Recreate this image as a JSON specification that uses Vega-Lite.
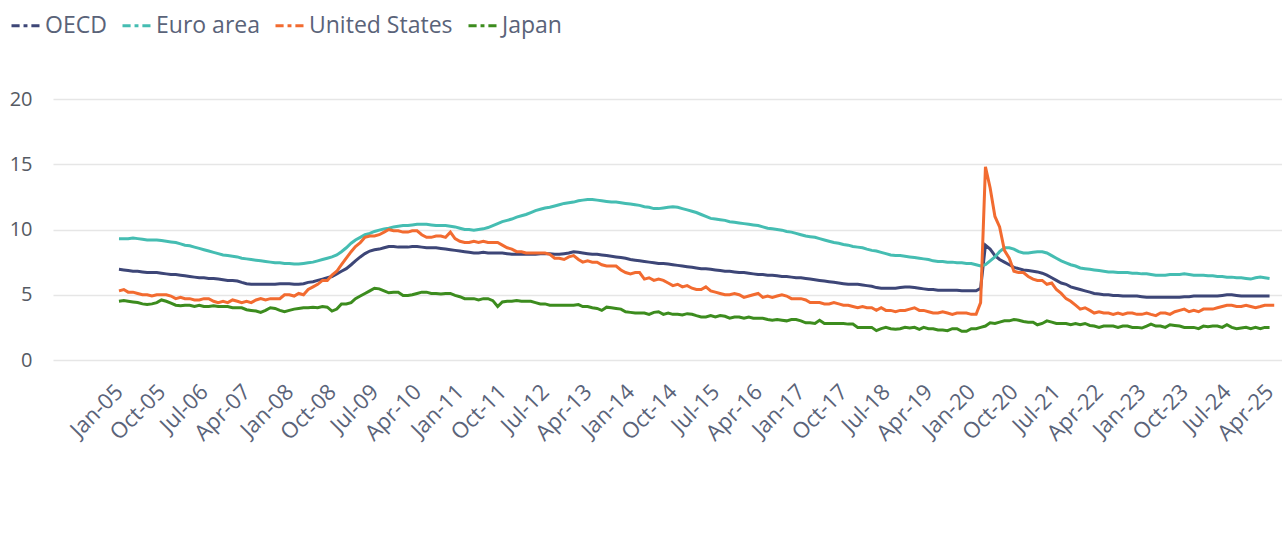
{
"$schema":"https://vega.github.io/schema/vega-lite/v6.json",
"width":1229,"height":261,
"autosize":{"type":"none"},
"padding":{"left":53,"top":99,"right":0,"bottom":180},
"background":"white",
"config":{"view":{"stroke":null},"font":"Open Sans"},
"data":{"values":[
{"d":"2005-01","OECD":6.95,"Euro area":9.3,"United States":5.3,"Japan":4.5},
{"d":"2005-02","OECD":6.9,"Euro area":9.3,"United States":5.4,"Japan":4.55},
{"d":"2005-03","OECD":6.85,"Euro area":9.3,"United States":5.2,"Japan":4.5},
{"d":"2005-04","OECD":6.8,"Euro area":9.35,"United States":5.2,"Japan":4.45},
{"d":"2005-05","OECD":6.8,"Euro area":9.3,"United States":5.1,"Japan":4.4},
{"d":"2005-06","OECD":6.75,"Euro area":9.25,"United States":5.0,"Japan":4.3},
{"d":"2005-07","OECD":6.7,"Euro area":9.2,"United States":5.0,"Japan":4.25},
{"d":"2005-08","OECD":6.7,"Euro area":9.2,"United States":4.9,"Japan":4.3},
{"d":"2005-09","OECD":6.7,"Euro area":9.2,"United States":5.0,"Japan":4.4},
{"d":"2005-10","OECD":6.65,"Euro area":9.15,"United States":5.0,"Japan":4.6},
{"d":"2005-11","OECD":6.6,"Euro area":9.1,"United States":5.0,"Japan":4.5},
{"d":"2005-12","OECD":6.55,"Euro area":9.05,"United States":4.9,"Japan":4.35},
{"d":"2006-01","OECD":6.55,"Euro area":9.0,"United States":4.7,"Japan":4.2},
{"d":"2006-02","OECD":6.5,"Euro area":8.9,"United States":4.8,"Japan":4.15},
{"d":"2006-03","OECD":6.45,"Euro area":8.8,"United States":4.7,"Japan":4.2},
{"d":"2006-04","OECD":6.4,"Euro area":8.75,"United States":4.7,"Japan":4.2},
{"d":"2006-05","OECD":6.35,"Euro area":8.65,"United States":4.6,"Japan":4.1},
{"d":"2006-06","OECD":6.3,"Euro area":8.55,"United States":4.6,"Japan":4.2},
{"d":"2006-07","OECD":6.3,"Euro area":8.45,"United States":4.7,"Japan":4.1},
{"d":"2006-08","OECD":6.25,"Euro area":8.35,"United States":4.7,"Japan":4.1},
{"d":"2006-09","OECD":6.25,"Euro area":8.25,"United States":4.5,"Japan":4.15},
{"d":"2006-10","OECD":6.2,"Euro area":8.15,"United States":4.4,"Japan":4.1},
{"d":"2006-11","OECD":6.15,"Euro area":8.05,"United States":4.5,"Japan":4.1},
{"d":"2006-12","OECD":6.1,"Euro area":8.0,"United States":4.4,"Japan":4.1},
{"d":"2007-01","OECD":6.1,"Euro area":7.95,"United States":4.6,"Japan":4.0},
{"d":"2007-02","OECD":6.05,"Euro area":7.9,"United States":4.5,"Japan":4.0},
{"d":"2007-03","OECD":5.95,"Euro area":7.8,"United States":4.4,"Japan":4.0},
{"d":"2007-04","OECD":5.85,"Euro area":7.75,"United States":4.5,"Japan":3.85},
{"d":"2007-05","OECD":5.8,"Euro area":7.7,"United States":4.4,"Japan":3.8},
{"d":"2007-06","OECD":5.8,"Euro area":7.65,"United States":4.6,"Japan":3.75},
{"d":"2007-07","OECD":5.8,"Euro area":7.6,"United States":4.7,"Japan":3.65},
{"d":"2007-08","OECD":5.8,"Euro area":7.55,"United States":4.6,"Japan":3.8},
{"d":"2007-09","OECD":5.8,"Euro area":7.5,"United States":4.7,"Japan":4.0},
{"d":"2007-10","OECD":5.8,"Euro area":7.45,"United States":4.7,"Japan":3.95},
{"d":"2007-11","OECD":5.85,"Euro area":7.45,"United States":4.7,"Japan":3.8},
{"d":"2007-12","OECD":5.85,"Euro area":7.4,"United States":5.0,"Japan":3.7},
{"d":"2008-01","OECD":5.85,"Euro area":7.4,"United States":5.0,"Japan":3.8},
{"d":"2008-02","OECD":5.8,"Euro area":7.35,"United States":4.9,"Japan":3.9},
{"d":"2008-03","OECD":5.8,"Euro area":7.35,"United States":5.1,"Japan":3.95},
{"d":"2008-04","OECD":5.85,"Euro area":7.4,"United States":5.0,"Japan":4.0},
{"d":"2008-05","OECD":5.95,"Euro area":7.45,"United States":5.4,"Japan":4.0},
{"d":"2008-06","OECD":6.0,"Euro area":7.5,"United States":5.6,"Japan":4.05},
{"d":"2008-07","OECD":6.1,"Euro area":7.6,"United States":5.8,"Japan":4.0},
{"d":"2008-08","OECD":6.2,"Euro area":7.7,"United States":6.1,"Japan":4.1},
{"d":"2008-09","OECD":6.3,"Euro area":7.8,"United States":6.1,"Japan":4.05},
{"d":"2008-10","OECD":6.4,"Euro area":7.9,"United States":6.5,"Japan":3.75},
{"d":"2008-11","OECD":6.6,"Euro area":8.05,"United States":6.8,"Japan":3.9},
{"d":"2008-12","OECD":6.8,"Euro area":8.3,"United States":7.3,"Japan":4.3},
{"d":"2009-01","OECD":7.0,"Euro area":8.6,"United States":7.8,"Japan":4.3},
{"d":"2009-02","OECD":7.3,"Euro area":8.95,"United States":8.3,"Japan":4.4},
{"d":"2009-03","OECD":7.6,"Euro area":9.2,"United States":8.7,"Japan":4.7},
{"d":"2009-04","OECD":7.9,"Euro area":9.4,"United States":9.0,"Japan":4.9},
{"d":"2009-05","OECD":8.15,"Euro area":9.6,"United States":9.4,"Japan":5.1},
{"d":"2009-06","OECD":8.35,"Euro area":9.7,"United States":9.5,"Japan":5.3},
{"d":"2009-07","OECD":8.45,"Euro area":9.85,"United States":9.5,"Japan":5.5},
{"d":"2009-08","OECD":8.5,"Euro area":9.95,"United States":9.6,"Japan":5.45},
{"d":"2009-09","OECD":8.6,"Euro area":10.05,"United States":9.8,"Japan":5.3},
{"d":"2009-10","OECD":8.7,"Euro area":10.1,"United States":10.0,"Japan":5.15},
{"d":"2009-11","OECD":8.7,"Euro area":10.2,"United States":9.9,"Japan":5.2},
{"d":"2009-12","OECD":8.65,"Euro area":10.25,"United States":9.9,"Japan":5.2},
{"d":"2010-01","OECD":8.65,"Euro area":10.3,"United States":9.8,"Japan":4.95},
{"d":"2010-02","OECD":8.65,"Euro area":10.3,"United States":9.8,"Japan":4.95},
{"d":"2010-03","OECD":8.7,"Euro area":10.35,"United States":9.9,"Japan":5.0},
{"d":"2010-04","OECD":8.7,"Euro area":10.4,"United States":9.9,"Japan":5.1},
{"d":"2010-05","OECD":8.65,"Euro area":10.4,"United States":9.6,"Japan":5.2},
{"d":"2010-06","OECD":8.6,"Euro area":10.4,"United States":9.4,"Japan":5.2},
{"d":"2010-07","OECD":8.6,"Euro area":10.35,"United States":9.4,"Japan":5.1},
{"d":"2010-08","OECD":8.6,"Euro area":10.3,"United States":9.5,"Japan":5.1},
{"d":"2010-09","OECD":8.55,"Euro area":10.3,"United States":9.5,"Japan":5.05},
{"d":"2010-10","OECD":8.5,"Euro area":10.3,"United States":9.4,"Japan":5.1},
{"d":"2010-11","OECD":8.45,"Euro area":10.25,"United States":9.8,"Japan":5.1},
{"d":"2010-12","OECD":8.4,"Euro area":10.2,"United States":9.3,"Japan":4.95},
{"d":"2011-01","OECD":8.35,"Euro area":10.1,"United States":9.1,"Japan":4.85},
{"d":"2011-02","OECD":8.3,"Euro area":10.0,"United States":9.0,"Japan":4.7},
{"d":"2011-03","OECD":8.25,"Euro area":10.0,"United States":9.0,"Japan":4.7},
{"d":"2011-04","OECD":8.2,"Euro area":9.95,"United States":9.1,"Japan":4.7},
{"d":"2011-05","OECD":8.2,"Euro area":10.0,"United States":9.0,"Japan":4.6},
{"d":"2011-06","OECD":8.25,"Euro area":10.05,"United States":9.1,"Japan":4.7},
{"d":"2011-07","OECD":8.2,"Euro area":10.15,"United States":9.0,"Japan":4.7},
{"d":"2011-08","OECD":8.2,"Euro area":10.3,"United States":9.0,"Japan":4.55},
{"d":"2011-09","OECD":8.2,"Euro area":10.45,"United States":9.0,"Japan":4.1},
{"d":"2011-10","OECD":8.2,"Euro area":10.6,"United States":8.8,"Japan":4.45},
{"d":"2011-11","OECD":8.15,"Euro area":10.7,"United States":8.6,"Japan":4.5},
{"d":"2011-12","OECD":8.1,"Euro area":10.8,"United States":8.5,"Japan":4.5},
{"d":"2012-01","OECD":8.1,"Euro area":10.95,"United States":8.3,"Japan":4.55},
{"d":"2012-02","OECD":8.1,"Euro area":11.05,"United States":8.3,"Japan":4.5},
{"d":"2012-03","OECD":8.1,"Euro area":11.15,"United States":8.2,"Japan":4.5},
{"d":"2012-04","OECD":8.1,"Euro area":11.3,"United States":8.2,"Japan":4.5},
{"d":"2012-05","OECD":8.1,"Euro area":11.45,"United States":8.2,"Japan":4.4},
{"d":"2012-06","OECD":8.15,"Euro area":11.55,"United States":8.2,"Japan":4.3},
{"d":"2012-07","OECD":8.15,"Euro area":11.65,"United States":8.2,"Japan":4.3},
{"d":"2012-08","OECD":8.15,"Euro area":11.7,"United States":8.1,"Japan":4.2},
{"d":"2012-09","OECD":8.1,"Euro area":11.8,"United States":7.8,"Japan":4.2},
{"d":"2012-10","OECD":8.1,"Euro area":11.9,"United States":7.8,"Japan":4.2},
{"d":"2012-11","OECD":8.15,"Euro area":12.0,"United States":7.7,"Japan":4.2},
{"d":"2012-12","OECD":8.2,"Euro area":12.05,"United States":7.9,"Japan":4.2},
{"d":"2013-01","OECD":8.3,"Euro area":12.1,"United States":8.0,"Japan":4.2},
{"d":"2013-02","OECD":8.25,"Euro area":12.2,"United States":7.7,"Japan":4.25},
{"d":"2013-03","OECD":8.2,"Euro area":12.25,"United States":7.5,"Japan":4.1},
{"d":"2013-04","OECD":8.15,"Euro area":12.3,"United States":7.6,"Japan":4.1},
{"d":"2013-05","OECD":8.1,"Euro area":12.3,"United States":7.5,"Japan":4.0},
{"d":"2013-06","OECD":8.1,"Euro area":12.25,"United States":7.5,"Japan":3.95},
{"d":"2013-07","OECD":8.05,"Euro area":12.2,"United States":7.3,"Japan":3.8},
{"d":"2013-08","OECD":8.0,"Euro area":12.15,"United States":7.2,"Japan":4.05},
{"d":"2013-09","OECD":7.95,"Euro area":12.1,"United States":7.2,"Japan":4.0},
{"d":"2013-10","OECD":7.9,"Euro area":12.1,"United States":7.2,"Japan":3.95},
{"d":"2013-11","OECD":7.85,"Euro area":12.05,"United States":6.9,"Japan":3.9},
{"d":"2013-12","OECD":7.8,"Euro area":12.0,"United States":6.7,"Japan":3.7},
{"d":"2014-01","OECD":7.7,"Euro area":11.95,"United States":6.6,"Japan":3.65},
{"d":"2014-02","OECD":7.65,"Euro area":11.9,"United States":6.7,"Japan":3.6},
{"d":"2014-03","OECD":7.6,"Euro area":11.85,"United States":6.7,"Japan":3.6},
{"d":"2014-04","OECD":7.55,"Euro area":11.75,"United States":6.2,"Japan":3.6},
{"d":"2014-05","OECD":7.5,"Euro area":11.7,"United States":6.3,"Japan":3.5},
{"d":"2014-06","OECD":7.45,"Euro area":11.6,"United States":6.1,"Japan":3.65},
{"d":"2014-07","OECD":7.4,"Euro area":11.6,"United States":6.2,"Japan":3.7},
{"d":"2014-08","OECD":7.4,"Euro area":11.65,"United States":6.1,"Japan":3.5},
{"d":"2014-09","OECD":7.35,"Euro area":11.7,"United States":5.9,"Japan":3.6},
{"d":"2014-10","OECD":7.3,"Euro area":11.75,"United States":5.7,"Japan":3.5},
{"d":"2014-11","OECD":7.25,"Euro area":11.7,"United States":5.8,"Japan":3.5},
{"d":"2014-12","OECD":7.2,"Euro area":11.6,"United States":5.6,"Japan":3.45},
{"d":"2015-01","OECD":7.15,"Euro area":11.5,"United States":5.7,"Japan":3.55},
{"d":"2015-02","OECD":7.1,"Euro area":11.4,"United States":5.5,"Japan":3.5},
{"d":"2015-03","OECD":7.05,"Euro area":11.3,"United States":5.4,"Japan":3.4},
{"d":"2015-04","OECD":7.0,"Euro area":11.15,"United States":5.4,"Japan":3.3},
{"d":"2015-05","OECD":7.0,"Euro area":11.0,"United States":5.6,"Japan":3.3},
{"d":"2015-06","OECD":6.95,"Euro area":10.85,"United States":5.3,"Japan":3.4},
{"d":"2015-07","OECD":6.9,"Euro area":10.8,"United States":5.2,"Japan":3.3},
{"d":"2015-08","OECD":6.85,"Euro area":10.75,"United States":5.1,"Japan":3.4},
{"d":"2015-09","OECD":6.8,"Euro area":10.7,"United States":5.0,"Japan":3.35},
{"d":"2015-10","OECD":6.8,"Euro area":10.6,"United States":5.0,"Japan":3.2},
{"d":"2015-11","OECD":6.75,"Euro area":10.55,"United States":5.1,"Japan":3.3},
{"d":"2015-12","OECD":6.7,"Euro area":10.5,"United States":5.0,"Japan":3.3},
{"d":"2016-01","OECD":6.7,"Euro area":10.45,"United States":4.8,"Japan":3.2},
{"d":"2016-02","OECD":6.65,"Euro area":10.4,"United States":4.9,"Japan":3.3},
{"d":"2016-03","OECD":6.6,"Euro area":10.35,"United States":5.0,"Japan":3.2},
{"d":"2016-04","OECD":6.55,"Euro area":10.3,"United States":5.1,"Japan":3.2},
{"d":"2016-05","OECD":6.55,"Euro area":10.2,"United States":4.8,"Japan":3.2},
{"d":"2016-06","OECD":6.5,"Euro area":10.1,"United States":4.9,"Japan":3.1},
{"d":"2016-07","OECD":6.5,"Euro area":10.05,"United States":4.8,"Japan":3.05},
{"d":"2016-08","OECD":6.45,"Euro area":10.0,"United States":4.9,"Japan":3.1},
{"d":"2016-09","OECD":6.4,"Euro area":9.95,"United States":5.0,"Japan":3.05},
{"d":"2016-10","OECD":6.4,"Euro area":9.85,"United States":4.9,"Japan":3.0},
{"d":"2016-11","OECD":6.35,"Euro area":9.8,"United States":4.7,"Japan":3.1},
{"d":"2016-12","OECD":6.3,"Euro area":9.7,"United States":4.7,"Japan":3.1},
{"d":"2017-01","OECD":6.3,"Euro area":9.6,"United States":4.7,"Japan":3.0},
{"d":"2017-02","OECD":6.25,"Euro area":9.5,"United States":4.6,"Japan":2.85},
{"d":"2017-03","OECD":6.2,"Euro area":9.45,"United States":4.4,"Japan":2.85},
{"d":"2017-04","OECD":6.15,"Euro area":9.4,"United States":4.4,"Japan":2.8},
{"d":"2017-05","OECD":6.1,"Euro area":9.3,"United States":4.4,"Japan":3.05},
{"d":"2017-06","OECD":6.05,"Euro area":9.2,"United States":4.3,"Japan":2.8},
{"d":"2017-07","OECD":6.0,"Euro area":9.1,"United States":4.3,"Japan":2.8},
{"d":"2017-08","OECD":5.95,"Euro area":9.0,"United States":4.4,"Japan":2.8},
{"d":"2017-09","OECD":5.9,"Euro area":8.95,"United States":4.3,"Japan":2.8},
{"d":"2017-10","OECD":5.85,"Euro area":8.85,"United States":4.2,"Japan":2.8},
{"d":"2017-11","OECD":5.8,"Euro area":8.8,"United States":4.2,"Japan":2.75},
{"d":"2017-12","OECD":5.8,"Euro area":8.7,"United States":4.1,"Japan":2.75},
{"d":"2018-01","OECD":5.8,"Euro area":8.65,"United States":4.0,"Japan":2.5},
{"d":"2018-02","OECD":5.75,"Euro area":8.6,"United States":4.1,"Japan":2.5},
{"d":"2018-03","OECD":5.7,"Euro area":8.5,"United States":4.0,"Japan":2.5},
{"d":"2018-04","OECD":5.65,"Euro area":8.4,"United States":4.0,"Japan":2.5},
{"d":"2018-05","OECD":5.55,"Euro area":8.35,"United States":3.8,"Japan":2.25},
{"d":"2018-06","OECD":5.5,"Euro area":8.25,"United States":4.0,"Japan":2.4},
{"d":"2018-07","OECD":5.5,"Euro area":8.15,"United States":3.8,"Japan":2.5},
{"d":"2018-08","OECD":5.5,"Euro area":8.05,"United States":3.8,"Japan":2.4},
{"d":"2018-09","OECD":5.5,"Euro area":8.0,"United States":3.7,"Japan":2.35},
{"d":"2018-10","OECD":5.55,"Euro area":8.0,"United States":3.8,"Japan":2.4},
{"d":"2018-11","OECD":5.6,"Euro area":7.95,"United States":3.8,"Japan":2.5},
{"d":"2018-12","OECD":5.6,"Euro area":7.9,"United States":3.9,"Japan":2.45},
{"d":"2019-01","OECD":5.55,"Euro area":7.85,"United States":4.0,"Japan":2.5},
{"d":"2019-02","OECD":5.5,"Euro area":7.8,"United States":3.8,"Japan":2.35},
{"d":"2019-03","OECD":5.45,"Euro area":7.75,"United States":3.8,"Japan":2.5},
{"d":"2019-04","OECD":5.4,"Euro area":7.7,"United States":3.7,"Japan":2.4},
{"d":"2019-05","OECD":5.4,"Euro area":7.6,"United States":3.6,"Japan":2.4},
{"d":"2019-06","OECD":5.35,"Euro area":7.55,"United States":3.6,"Japan":2.3},
{"d":"2019-07","OECD":5.35,"Euro area":7.55,"United States":3.7,"Japan":2.3},
{"d":"2019-08","OECD":5.35,"Euro area":7.5,"United States":3.6,"Japan":2.25},
{"d":"2019-09","OECD":5.35,"Euro area":7.5,"United States":3.5,"Japan":2.4},
{"d":"2019-10","OECD":5.35,"Euro area":7.45,"United States":3.6,"Japan":2.4},
{"d":"2019-11","OECD":5.3,"Euro area":7.45,"United States":3.6,"Japan":2.2},
{"d":"2019-12","OECD":5.3,"Euro area":7.4,"United States":3.6,"Japan":2.2},
{"d":"2020-01","OECD":5.3,"Euro area":7.4,"United States":3.5,"Japan":2.4},
{"d":"2020-02","OECD":5.3,"Euro area":7.3,"United States":3.5,"Japan":2.4},
{"d":"2020-03","OECD":5.5,"Euro area":7.2,"United States":4.4,"Japan":2.5},
{"d":"2020-04","OECD":8.8,"Euro area":7.3,"United States":14.8,"Japan":2.6},
{"d":"2020-05","OECD":8.5,"Euro area":7.6,"United States":13.2,"Japan":2.85},
{"d":"2020-06","OECD":8.0,"Euro area":7.9,"United States":11.0,"Japan":2.8},
{"d":"2020-07","OECD":7.7,"Euro area":8.3,"United States":10.2,"Japan":2.9},
{"d":"2020-08","OECD":7.5,"Euro area":8.6,"United States":8.4,"Japan":3.0},
{"d":"2020-09","OECD":7.3,"Euro area":8.6,"United States":7.8,"Japan":3.0},
{"d":"2020-10","OECD":7.1,"Euro area":8.5,"United States":6.8,"Japan":3.1},
{"d":"2020-11","OECD":7.0,"Euro area":8.3,"United States":6.7,"Japan":3.05},
{"d":"2020-12","OECD":6.9,"Euro area":8.2,"United States":6.7,"Japan":2.95},
{"d":"2021-01","OECD":6.85,"Euro area":8.2,"United States":6.4,"Japan":2.9},
{"d":"2021-02","OECD":6.8,"Euro area":8.25,"United States":6.2,"Japan":2.9},
{"d":"2021-03","OECD":6.75,"Euro area":8.3,"United States":6.1,"Japan":2.7},
{"d":"2021-04","OECD":6.65,"Euro area":8.3,"United States":6.1,"Japan":2.8},
{"d":"2021-05","OECD":6.5,"Euro area":8.2,"United States":5.8,"Japan":3.0},
{"d":"2021-06","OECD":6.3,"Euro area":8.0,"United States":5.9,"Japan":2.9},
{"d":"2021-07","OECD":6.1,"Euro area":7.8,"United States":5.4,"Japan":2.8},
{"d":"2021-08","OECD":5.9,"Euro area":7.6,"United States":5.1,"Japan":2.8},
{"d":"2021-09","OECD":5.8,"Euro area":7.45,"United States":4.7,"Japan":2.8},
{"d":"2021-10","OECD":5.6,"Euro area":7.3,"United States":4.5,"Japan":2.7},
{"d":"2021-11","OECD":5.5,"Euro area":7.2,"United States":4.2,"Japan":2.8},
{"d":"2021-12","OECD":5.4,"Euro area":7.05,"United States":3.9,"Japan":2.7},
{"d":"2022-01","OECD":5.3,"Euro area":7.0,"United States":4.0,"Japan":2.8},
{"d":"2022-02","OECD":5.2,"Euro area":6.95,"United States":3.8,"Japan":2.65},
{"d":"2022-03","OECD":5.1,"Euro area":6.9,"United States":3.6,"Japan":2.6},
{"d":"2022-04","OECD":5.05,"Euro area":6.85,"United States":3.7,"Japan":2.5},
{"d":"2022-05","OECD":5.0,"Euro area":6.8,"United States":3.6,"Japan":2.6},
{"d":"2022-06","OECD":5.0,"Euro area":6.75,"United States":3.6,"Japan":2.6},
{"d":"2022-07","OECD":4.95,"Euro area":6.75,"United States":3.5,"Japan":2.6},
{"d":"2022-08","OECD":4.95,"Euro area":6.7,"United States":3.6,"Japan":2.5},
{"d":"2022-09","OECD":4.9,"Euro area":6.7,"United States":3.5,"Japan":2.6},
{"d":"2022-10","OECD":4.9,"Euro area":6.7,"United States":3.6,"Japan":2.6},
{"d":"2022-11","OECD":4.9,"Euro area":6.65,"United States":3.6,"Japan":2.5},
{"d":"2022-12","OECD":4.9,"Euro area":6.65,"United States":3.5,"Japan":2.5},
{"d":"2023-01","OECD":4.85,"Euro area":6.6,"United States":3.5,"Japan":2.45},
{"d":"2023-02","OECD":4.8,"Euro area":6.6,"United States":3.6,"Japan":2.6},
{"d":"2023-03","OECD":4.8,"Euro area":6.55,"United States":3.5,"Japan":2.75},
{"d":"2023-04","OECD":4.8,"Euro area":6.5,"United States":3.4,"Japan":2.6},
{"d":"2023-05","OECD":4.8,"Euro area":6.5,"United States":3.6,"Japan":2.6},
{"d":"2023-06","OECD":4.8,"Euro area":6.5,"United States":3.6,"Japan":2.5},
{"d":"2023-07","OECD":4.8,"Euro area":6.55,"United States":3.5,"Japan":2.7},
{"d":"2023-08","OECD":4.8,"Euro area":6.55,"United States":3.7,"Japan":2.65},
{"d":"2023-09","OECD":4.8,"Euro area":6.55,"United States":3.8,"Japan":2.6},
{"d":"2023-10","OECD":4.85,"Euro area":6.6,"United States":3.9,"Japan":2.5},
{"d":"2023-11","OECD":4.85,"Euro area":6.55,"United States":3.7,"Japan":2.5},
{"d":"2023-12","OECD":4.9,"Euro area":6.5,"United States":3.8,"Japan":2.5},
{"d":"2024-01","OECD":4.9,"Euro area":6.5,"United States":3.7,"Japan":2.4},
{"d":"2024-02","OECD":4.9,"Euro area":6.5,"United States":3.9,"Japan":2.6},
{"d":"2024-03","OECD":4.9,"Euro area":6.45,"United States":3.9,"Japan":2.55},
{"d":"2024-04","OECD":4.9,"Euro area":6.45,"United States":3.9,"Japan":2.6},
{"d":"2024-05","OECD":4.9,"Euro area":6.4,"United States":4.0,"Japan":2.6},
{"d":"2024-06","OECD":4.95,"Euro area":6.4,"United States":4.1,"Japan":2.5},
{"d":"2024-07","OECD":5.0,"Euro area":6.35,"United States":4.2,"Japan":2.7},
{"d":"2024-08","OECD":5.0,"Euro area":6.35,"United States":4.2,"Japan":2.5},
{"d":"2024-09","OECD":4.95,"Euro area":6.3,"United States":4.1,"Japan":2.4},
{"d":"2024-10","OECD":4.9,"Euro area":6.3,"United States":4.1,"Japan":2.45},
{"d":"2024-11","OECD":4.9,"Euro area":6.25,"United States":4.2,"Japan":2.5},
{"d":"2024-12","OECD":4.9,"Euro area":6.2,"United States":4.1,"Japan":2.4},
{"d":"2025-01","OECD":4.9,"Euro area":6.3,"United States":4.0,"Japan":2.5},
{"d":"2025-02","OECD":4.9,"Euro area":6.35,"United States":4.1,"Japan":2.4},
{"d":"2025-03","OECD":4.9,"Euro area":6.3,"United States":4.2,"Japan":2.5},
{"d":"2025-04","OECD":4.9,"Euro area":6.25,"United States":4.2,"Japan":2.5},
{"d":"2025-05","United States":4.2}
]},
"transform":[{"fold":["OECD","Euro area","United States","Japan"],"as":["series","value"]}],
"mark":{"type":"line","strokeWidth":3},
"encoding":{
"x":{"field":"d","type":"temporal",
 "scale":{"type":"utc","nice":false,"domain":[{"year":2003,"month":11,"date":4,"utc":true},{"year":2025,"month":6,"date":20,"utc":true}]},
 "axis":{"title":null,"format":"%b-%y","labelAngle":-45,"labelAlign":"right","labelBaseline":"middle","labelPadding":28,"tickSize":0,"ticks":false,"domain":false,"grid":false,"labelFontSize":22,"labelFont":"Open Sans","labelColor":"#5a6379","labelOverlap":false,"labelBound":false,"labelFlush":false,
 "values":[{"year":2005,"month":1,"utc":true},{"year":2005,"month":10,"utc":true},{"year":2006,"month":7,"utc":true},{"year":2007,"month":4,"utc":true},{"year":2008,"month":1,"utc":true},{"year":2008,"month":10,"utc":true},{"year":2009,"month":7,"utc":true},{"year":2010,"month":4,"utc":true},{"year":2011,"month":1,"utc":true},{"year":2011,"month":10,"utc":true},{"year":2012,"month":7,"utc":true},{"year":2013,"month":4,"utc":true},{"year":2014,"month":1,"utc":true},{"year":2014,"month":10,"utc":true},{"year":2015,"month":7,"utc":true},{"year":2016,"month":4,"utc":true},{"year":2017,"month":1,"utc":true},{"year":2017,"month":10,"utc":true},{"year":2018,"month":7,"utc":true},{"year":2019,"month":4,"utc":true},{"year":2020,"month":1,"utc":true},{"year":2020,"month":10,"utc":true},{"year":2021,"month":7,"utc":true},{"year":2022,"month":4,"utc":true},{"year":2023,"month":1,"utc":true},{"year":2023,"month":10,"utc":true},{"year":2024,"month":7,"utc":true},{"year":2025,"month":4,"utc":true}]}},
"y":{"field":"value","type":"quantitative","scale":{"domain":[0,20],"nice":false},
 "axis":{"title":null,"values":[0,5,10,15,20],"tickSize":0,"ticks":false,"domain":false,"labelPadding":21,"labelFontSize":20,"labelFont":"Open Sans","labelColor":"#555a63","gridColor":"#e6e6e6","gridWidth":1.5}},
"color":{"field":"series","type":"nominal",
 "scale":{"domain":["OECD","Euro area","United States","Japan"],"range":["#3d4677","#45bdb2","#f26b30","#3c8c1e"]},
 "legend":{"title":null,"orient":"none","legendX":-43,"legendY":-89,"direction":"horizontal","symbolType":"M-1,0H-0.42M-0.14,0H0.14M0.42,0H1","symbolSize":784,"symbolStrokeWidth":3,"labelFont":"Open Sans","labelFontSize":23,"labelColor":"#5a6379","labelOffset":4,"columnPadding":9,"labelLimit":300}}
}
}
